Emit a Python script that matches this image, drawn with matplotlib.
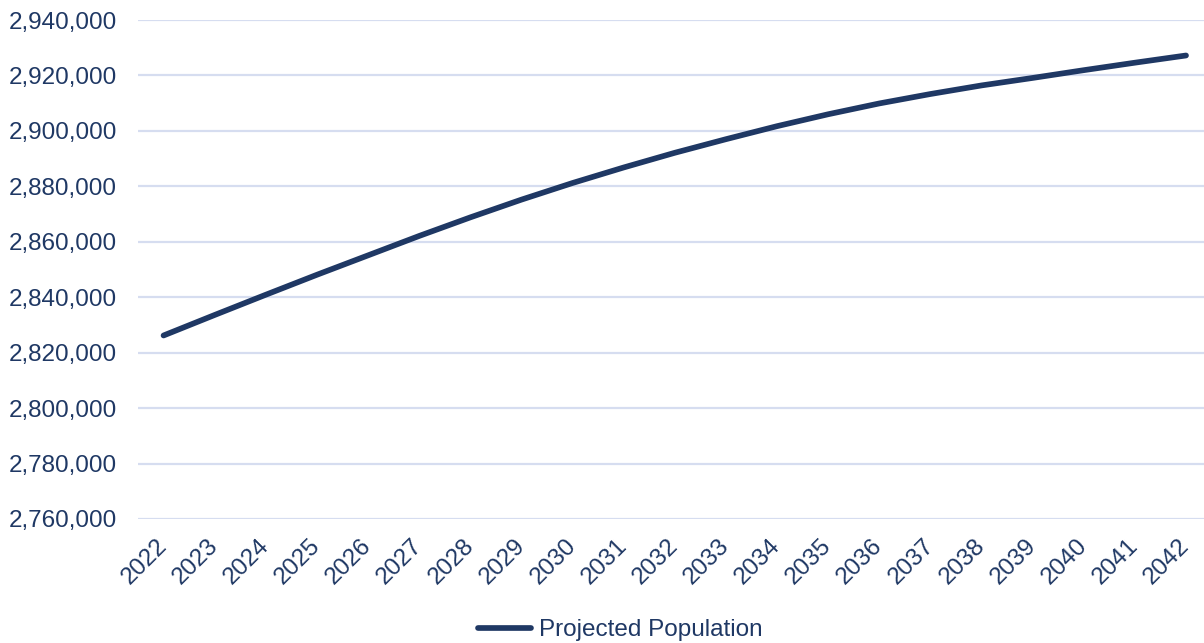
import matplotlib
matplotlib.use("Agg")
import matplotlib.pyplot as plt
from matplotlib.ticker import FuncFormatter

plt.rcParams["font.family"] = ["Liberation Sans", "DejaVu Sans"]

NAVY = "#1F3864"
GRID = "#D6DDF0"

years = [str(y) for y in range(2022, 2043)]
population = [
    2826200, 2833600, 2840900, 2848100, 2855100, 2862100, 2868800,
    2875200, 2881200, 2886800, 2892100, 2897000, 2901700, 2906000,
    2909900, 2913300, 2916400, 2919100, 2921900, 2924600, 2927200,
]
series_name = "Projected Population"

fig = plt.figure(figsize=(12.04, 6.43), dpi=100)
W, H = 1204, 643
ax = fig.add_axes([138 / W, 1 - 519 / H, (1204 - 138) / W, (519 - 20) / H])

x = list(range(len(years)))
ax.plot(x, population, color=NAVY, linewidth=4.1, solid_capstyle="round",
        label=series_name)

ax.set_ylim(2760000, 2940000)
ax.set_yticks(range(2760000, 2940001, 20000))
ax.yaxis.set_major_formatter(FuncFormatter(lambda v, p: f"{int(v):,}"))
ax.set_xlim(-0.5, 20 + (1204 - 1186) / 51.15)
ax.set_xticks(x)
ax.set_xticklabels(years, rotation=45, ha="right", va="center",
                   rotation_mode="anchor")

ax.grid(axis="y", color=GRID, linewidth=1.6)
ax.set_axisbelow(True)
for s in ax.spines.values():
    s.set_visible(False)
ax.tick_params(axis="both", length=0, labelcolor=NAVY, labelsize=17.5)
ax.tick_params(axis="y", pad=15)
ax.tick_params(axis="x", pad=17)

leg = fig.legend(loc="center", bbox_to_anchor=(620 / W, 1 - 630 / H),
                 frameon=False, fontsize=17.5, handlelength=2.2,
                 handletextpad=0.3, labelcolor=NAVY)

fig.savefig("out.png", dpi=100)
